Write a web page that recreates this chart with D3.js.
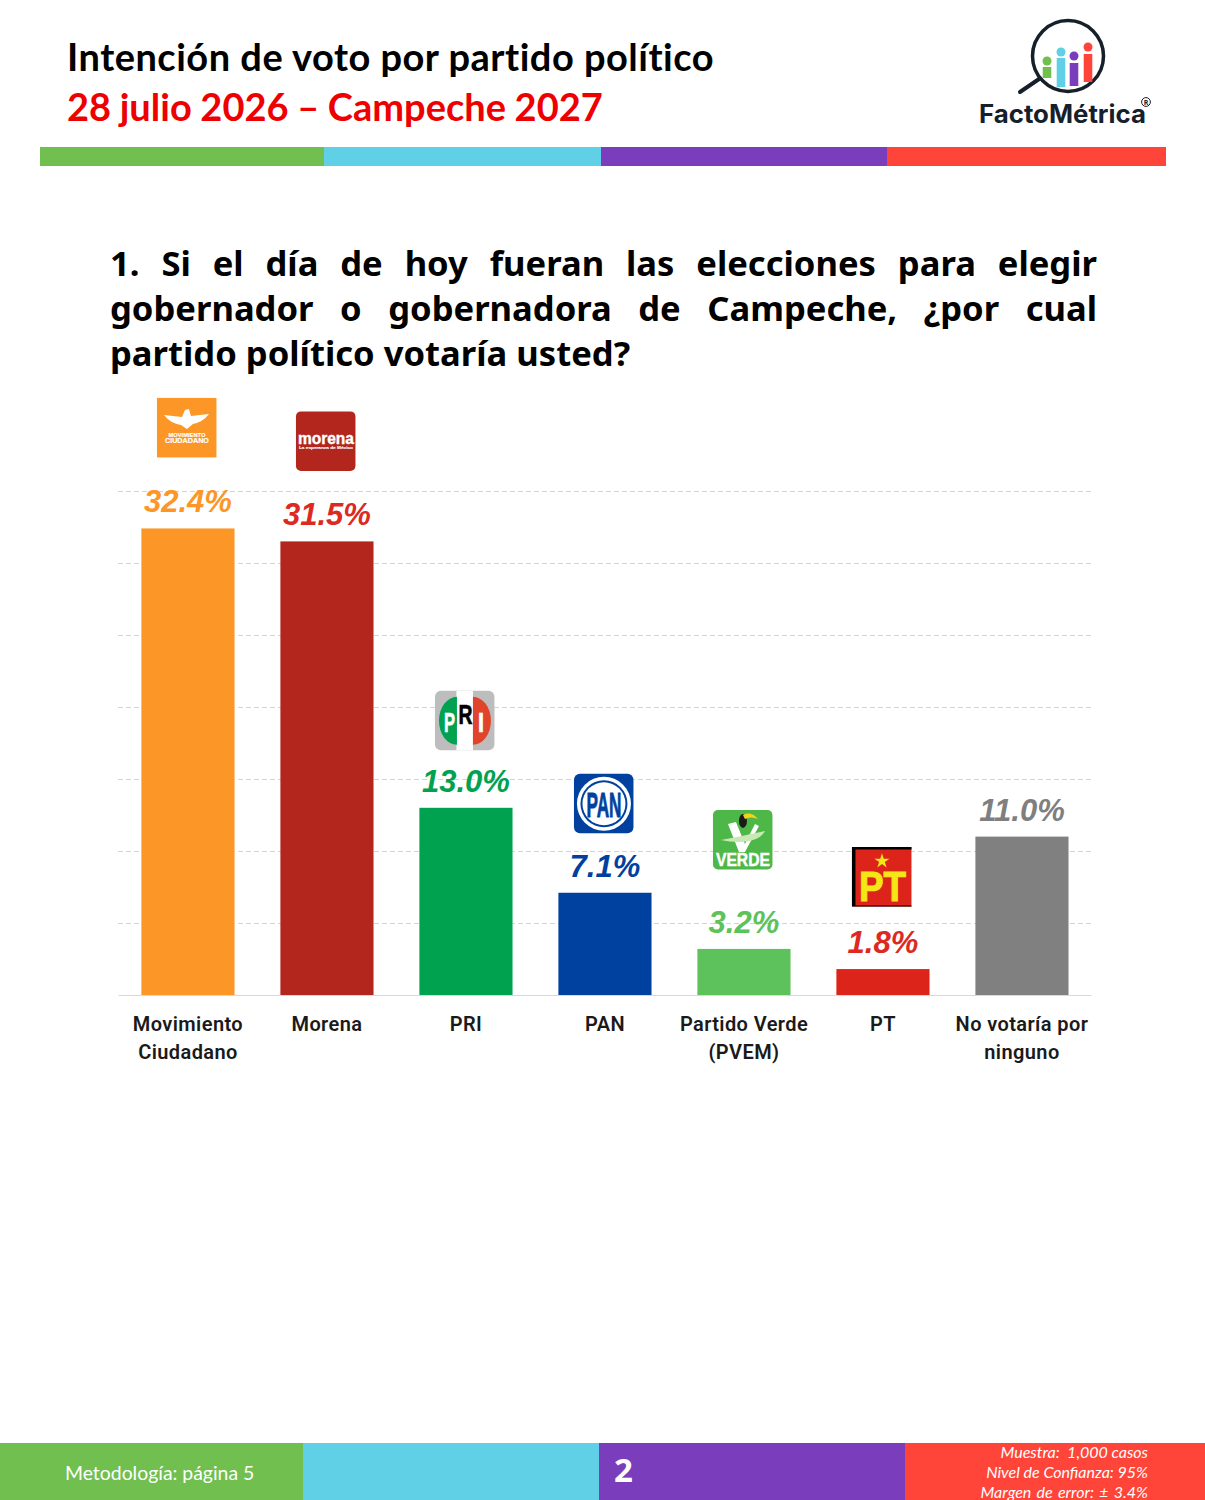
<!DOCTYPE html>
<html>
<head>
<meta charset="utf-8">
<script src="https://cdn.jsdelivr.net/npm/d3@7"></script>
<style>
  body { margin: 0; background: #fff; }
  svg { display: block; }
</style>
</head>
<body>
<svg id="chart"></svg>
<script>
const categories = ["Movimiento Ciudadano", "Morena", "PRI", "PAN", "Partido Verde (PVEM)", "PT", "No votaría por ninguno"];
const values = [32.4, 31.5, 13.0, 7.1, 3.2, 1.8, 11.0];
const barColors = ["#FB9627", "#B3261E", "#00A24F", "#0041A0", "#5DC25B", "#DC241B", "#808080"];
const labelColors = ["#FB9627", "#DC2A22", "#00A24F", "#0041A0", "#5DC25B", "#DC2A22", "#7F7F7F"];
const tickLabels = [["Movimiento", "Ciudadano"], ["Morena"], ["PRI"], ["PAN"], ["Partido Verde", "(PVEM)"], ["PT"], ["No votaría por", "ninguno"]];
const gridTicks = [5, 10, 15, 20, 25, 30, 35];
const questionLines = ["1. Si el día de hoy fueran las elecciones para elegir", "gobernador o gobernadora de Campeche, ¿por cual", "partido político votaría usted?"];
const footerNotes = ["Muestra:  1,000 casos", "Nivel de Confianza: 95%", "Margen de error: ± 3.4%"];

const svg = d3.select("#chart").attr("width", 1205).attr("height", 1500);
const brand = { green: "#70BF4F", cyan: "#5FD0E5", purple: "#7A3DBB", red: "#FF4539" };

// header
svg.append("text").attr("x", 67).attr("y", 71).attr("font-family", "Lato").attr("font-weight", 700)
  .attr("font-size", 38).attr("fill", "#000").style("font-variant-ligatures", "none").style("letter-spacing", "0.5px")
  .text("Intención de voto por partido político");
svg.append("text").attr("x", 67).attr("y", 121).attr("font-family", "Lato").attr("font-weight", 700)
  .attr("font-size", 38).attr("fill", "#EE0000").style("word-spacing", "-0.6px").text("28 julio 2026 – Campeche 2027");

const strip = (data, y, h) => svg.append("g").selectAll("rect").data(data).enter().append("rect")
  .attr("x", d => d[0]).attr("y", y).attr("width", d => d[1] - d[0]).attr("height", h).attr("fill", d => d[2]);
strip([[40, 324, brand.green], [324, 601, brand.cyan], [601, 887, brand.purple], [887, 1166, brand.red]], 147, 19);
strip([[0, 303, brand.green], [303, 599, brand.cyan], [599, 905, brand.purple], [905, 1205, brand.red]], 1443, 57);

// factometrica logo
const fm = svg.append("g");
fm.append("line").attr("x1", 1020).attr("y1", 92).attr("x2", 1042).attr("y2", 77).attr("stroke", "#15202b").attr("stroke-width", 4).attr("stroke-linecap", "round");
fm.append("circle").attr("cx", 1068).attr("cy", 56).attr("r", 35.5).attr("fill", "#fff").attr("stroke", "#15202b").attr("stroke-width", 3.5);
[[1047, 61, 67, 78, brand.green], [1061, 52, 58, 87, brand.cyan], [1074, 56, 63, 86, brand.purple], [1088, 47, 54, 82, brand.red]].forEach(p => {
  fm.append("circle").attr("cx", p[0]).attr("cy", p[1]).attr("r", 4.5).attr("fill", p[4]);
  fm.append("rect").attr("x", p[0] - 4.3).attr("y", p[2]).attr("width", 8.6).attr("height", p[3] - p[2]).attr("fill", p[4]);
});
fm.append("text").attr("x", 979).attr("y", 123).attr("font-family", "Inter").attr("font-weight", 700)
  .attr("font-size", 25).attr("fill", "#15202b").attr("textLength", 167).attr("lengthAdjust", "spacingAndGlyphs").text("FactoMétrica");
fm.append("circle").attr("cx", 1146).attr("cy", 102).attr("r", 4.4).attr("fill", "none").attr("stroke", "#15202b");
fm.append("text").attr("x", 1146).attr("y", 104.5).attr("text-anchor", "middle").attr("font-family", "Open Sans").attr("font-weight", 700)
  .attr("font-size", 7).attr("fill", "#15202b").text("R");

// question, justified by word spacing
const questionWidth = 987;
svg.append("g").selectAll("text").data(questionLines).enter().append("text")
  .attr("x", 110).attr("y", (d, i) => 275.5 + i * 45)
  .attr("font-family", "Noto Sans").attr("font-weight", 700).attr("font-size", 34.6).attr("fill", "#000")
  .text(d => d)
  .each(function (d, i) {
    if (i == questionLines.length - 1) return;
    const extra = (questionWidth - this.getComputedTextLength()) / (d.split(" ").length - 1);
    d3.select(this).style("word-spacing", extra + "px");
  });

// chart
const xScale = d3.scaleBand().domain(categories).range([118, 1091]).paddingInner(0.33).paddingOuter(0.165).align(0.51);
const yScale = d3.scaleLinear().domain([0, 35]).range([995, 491]);

const grid = svg.append("g").attr("transform", "translate(118,0)")
  .call(d3.axisLeft(yScale).tickValues(gridTicks).tickSize(-973).tickFormat(""));
grid.select(".domain").remove();
grid.selectAll(".tick line").attr("stroke", "#D4D4D4").attr("stroke-width", 1).attr("stroke-dasharray", "5,3");

const xAxis = svg.append("g").attr("transform", "translate(0,995)")
  .call(d3.axisBottom(xScale).tickSize(0).tickFormat(""));
xAxis.select(".domain").attr("stroke", "#D9D9D9");
xAxis.selectAll(".tick text").remove();
xAxis.selectAll(".tick").data(tickLabels).append("text")
  .attr("text-anchor", "middle").attr("font-family", "Roboto").attr("font-weight", 600)
  .attr("font-size", 20).attr("fill", "#1a1a1a").style("letter-spacing", "0.4px")
  .selectAll("tspan").data(d => d).enter().append("tspan")
  .attr("x", 0).attr("y", (d, i) => 36 + i * 28).text(d => d);

svg.append("g").selectAll("rect").data(values).enter().append("rect")
  .attr("x", (d, i) => xScale(categories[i]))
  .attr("y", d => yScale(d))
  .attr("width", xScale.bandwidth())
  .attr("height", d => yScale(0) - yScale(d))
  .attr("fill", (d, i) => barColors[i]);

svg.append("g").selectAll("text").data(values).enter().append("text")
  .attr("x", (d, i) => xScale(categories[i]) + xScale.bandwidth() / 2)
  .attr("y", d => yScale(d) - 16)
  .attr("text-anchor", "middle").attr("font-family", "Liberation Sans").attr("font-weight", 700).attr("font-style", "italic")
  .attr("font-size", 31).attr("fill", (d, i) => labelColors[i])
  .text(d => d.toFixed(1) + "%");

// party logos, each 59px box, placed from the centre of the bar and its top
const logoLift = [130.5, 130, 117, 119, 139, 122];
const logoColors = ["#FB9627", "#B3261E", "#BDBDBD", "#0041A0", "#4DB848", "#DC241B"];
const logos = svg.append("g").selectAll("g").data(categories.slice(0, 6)).enter().append("g")
  .attr("transform", (d, i) => `translate(${xScale(d) + xScale.bandwidth() / 2 - 31},${yScale(values[i]) - logoLift[i]})`);
logos.append("rect").attr("width", 59.5).attr("height", 59.5)
  .attr("rx", (d, i) => [0, 5, 6, 6, 5, 0][i]).attr("fill", (d, i) => logoColors[i]);

// squeezed letters, the narrow font is not installed
const tiny = (g, text, x, y, size, fill, len) => {
  const t = g.append("text").attr("x", x).attr("y", y).attr("text-anchor", "middle")
    .attr("font-family", "Liberation Sans").attr("font-weight", 700).attr("font-size", size).attr("fill", fill)
    .attr("stroke", fill).attr("stroke-width", size * 0.025).text(text);
  if (len) t.attr("textLength", len).attr("lengthAdjust", "spacingAndGlyphs");
  return t;
};

// MC
const mc = logos.filter((d, i) => i == 0);
mc.append("path").attr("d", "M7,17 L25,19 L28,12 L32,11 L34,18 L52,16 Q46,24 36,26 L30,31 L24,27 Q13,25 7,17Z").attr("fill", "#fff");
tiny(mc, "MOVIMIENTO", 30, 39, 6.2, "#fff", 37);
tiny(mc, "CIUDADANO", 30, 45.5, 6.6, "#fff", 44);

// Morena
const mor = logos.filter((d, i) => i == 1);
tiny(mor, "morena", 30, 33, 16, "#fff", 56);
tiny(mor, "La esperanza de México", 30, 38, 3.6, "#fff", 54);

// PRI
const pri = logos.filter((d, i) => i == 2);
pri.append("rect").attr("x", 21.5).attr("width", 16.5).attr("height", 59.5).attr("fill", "#fff");
pri.append("path").attr("d", "M22,6 A18,24 0 0 0 22,54 Z").attr("fill", "#00A24F");
pri.append("path").attr("d", "M38,6 A18,24 0 0 1 38,54 Z").attr("fill", "#E0452B");
tiny(pri, "P", 14.5, 41, 28, "#fff", 11);
tiny(pri, "R", 30.5, 33, 28, "#000", 14);
tiny(pri, "I", 46, 41, 28, "#fff", 6);

// PAN
const pan = logos.filter((d, i) => i == 3);
pan.append("circle").attr("cx", 30).attr("cy", 30).attr("r", 27).attr("fill", "#fff");
pan.append("circle").attr("cx", 30).attr("cy", 30).attr("r", 23.5).attr("fill", "#0041A0");
pan.append("circle").attr("cx", 30).attr("cy", 30).attr("r", 21.5).attr("fill", "#fff");
tiny(pan, "PAN", 30, 43, 35, "#0041A0", 35);

// Verde
const ver = logos.filter((d, i) => i == 4);
ver.append("path").attr("d", "M15,14 L23,12 L32,34 L42,14 L46,16 L32,42 L26,42Z").attr("fill", "#fff");
ver.append("path").attr("d", "M8,30 Q30,26 52,21 Q46,32 26,32 Q16,32 8,30Z").attr("fill", "#c9e8b5");
ver.append("ellipse").attr("cx", 30).attr("cy", 11).attr("rx", 4).attr("ry", 7).attr("fill", "#1a1a1a");
ver.append("path").attr("d", "M30,5 Q38,1 45,9 Q38,6 32,9Z").attr("fill", "#F2D21B");
tiny(ver, "VERDE", 30, 56.5, 18, "#fff", 54);

// PT
const pt = logos.filter((d, i) => i == 5);
pt.append("path").attr("d", "M0,0 H59.5 V2.5 H3.5 V58.5 H59.5 V59.5 H0Z").attr("fill", "#000");
pt.append("path").attr("d", d3.symbol(d3.symbolStar, 70)).attr("transform", "translate(30,14)").attr("fill", "#F5E616");
tiny(pt, "PT", 30.5, 54, 42, "#F5E616", 47);

// footer
svg.append("text").attr("x", 65).attr("y", 1480).attr("font-family", "Lato").attr("font-size", 19.4).attr("fill", "#fff").text("Metodología: página 5");
svg.append("text").attr("x", 614).attr("y", 1482).attr("font-family", "Noto Sans").attr("font-weight", 700).attr("font-size", 33).attr("fill", "#fff").text("2");
svg.append("g").selectAll("text").data(footerNotes).enter().append("text")
  .attr("x", 1148).attr("y", (d, i) => 1458 + i * 20).attr("text-anchor", "end")
  .attr("font-family", "Lato").attr("font-style", "italic").attr("font-size", 16).attr("fill", "#fff")
  .style("white-space", "pre").style("word-spacing", (d, i) => i == 2 ? "1.5px" : "0px").text(d => d);
</script>
</body>
</html>
